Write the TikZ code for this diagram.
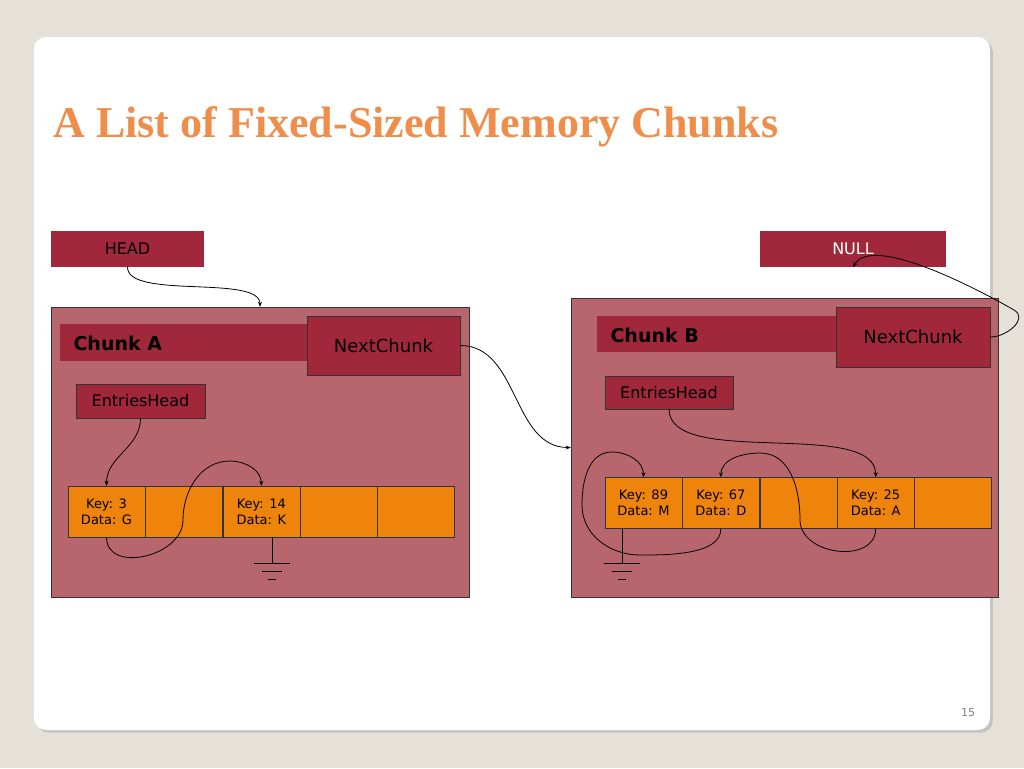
\documentclass[tikz,border=0pt]{standalone}
\usepackage{fontspec}
\setmainfont{DejaVu Sans}
\newfontfamily\titlefont{Liberation Serif}
\usetikzlibrary{arrows.meta,positioning,shadows}
\definecolor{slidebg}{HTML}{E5E1D8}
\definecolor{ptrred}{HTML}{A0283A}
\definecolor{chunkfill}{HTML}{B8666E}
\definecolor{cellfill}{HTML}{EF840C}
\definecolor{titleorange}{HTML}{EE8E4A}
\tikzset{
  ptr/.style={draw=black!80, fill=ptrred, inner sep=0pt, font=\fontsize{16}{16}\selectfont},
  chunk/.style={draw=black!80, fill=chunkfill, inner sep=0pt},
  cell/.style={draw=black!80, fill=cellfill, minimum width=77pt, minimum height=51pt,
    inner sep=0pt, align=center, font=\fontsize{13}{16}\selectfont},
  link/.style={-{Stealth[length=5pt,width=4pt]}, thick, black},
}
\begin{document}
\begin{tikzpicture}[x=1pt,y=-1pt]
  \useasboundingbox (0,0) rectangle (1024,768);
  \fill[slidebg] (0,0) rectangle (1024,768);
  \fill[white, rounded corners=12pt, drop shadow={opacity=0.3}] (34,37) rectangle (990,730);

  % Title
  \node[anchor=west, text=titleorange, font=\titlefont\bfseries\fontsize{44}{44}\selectfont]
    (title) at (50,127) {A List of Fixed-Sized Memory Chunks};
  \node[text=black!50, font=\fontsize{11}{11}\selectfont] (page) at (968,713) {15};

  % Head and null pointers
  \node[ptr, draw=none, minimum width=153pt, minimum height=36pt, text=black] (head) at (127.5,249) {HEAD};
  \node[ptr, draw=none, minimum width=186pt, minimum height=36pt, text=white] (null) at (853,249) {NULL};

  % Chunk A
  % ---------------------
  \node[chunk, minimum width=418pt, minimum height=290pt] (chunkA) at (260,452) {};
  \fill[ptrred] (60,324) rectangle (310,361);
  \node[anchor=west, font=\bfseries\fontsize{19}{19}\selectfont] (labelA) at (70,343) {Chunk A};
  \node[ptr, minimum width=153pt, minimum height=59pt, font=\fontsize{18}{18}\selectfont] (nextA) at (383.5,345.5) {NextChunk};
  \node[ptr, minimum width=129pt, minimum height=34pt] (entA) at (140.5,401) {EntriesHead};
  \node[cell] (a1) at (106.5,511.5) {Key: 3\\Data: G};
  \node[cell, right=0pt of a1] (a2) {};
  \node[cell, right=0pt of a2] (a3) {Key: 14\\Data: K};
  \node[cell, right=0pt of a3] (a4) {};
  \node[cell, right=0pt of a4] (a5) {};
  \coordinate (gndA) at (272,563);
  \draw[thick] (a3.south -| gndA) -- (gndA);
  \draw[thick] (254,563) -- (290,563) (262,571) -- (282,571) (268,579) -- (276,579);

  % Chunk B
  % ---------------------
  \node[chunk, minimum width=427pt, minimum height=299pt] (chunkB) at (784.5,447.5) {};
  \fill[ptrred] (597,316) rectangle (840,352);
  \node[anchor=west, font=\bfseries\fontsize{19}{19}\selectfont] (labelB) at (607,335) {Chunk B};
  \node[ptr, minimum width=154pt, minimum height=60pt, font=\fontsize{18}{18}\selectfont] (nextB) at (913,337) {NextChunk};
  \node[ptr, minimum width=128pt, minimum height=33pt] (entB) at (669,392.5) {EntriesHead};
  \node[cell] (b1) at (643.5,503) {Key: 89\\Data: M};
  \node[cell, right=0pt of b1] (b2) {Key: 67\\Data: D};
  \node[cell, right=0pt of b2] (b3) {};
  \node[cell, right=0pt of b3] (b4) {Key: 25\\Data: A};
  \node[cell, right=0pt of b4] (b5) {};
  \coordinate (gndB) at (622,563);
  \draw[thick] (b1.south -| gndB) -- (gndB);
  \draw[thick] (604,563) -- (640,563) (612,571) -- (632,571) (618,579) -- (626,579);

  % Pointers
  % ---------------------
  \draw[link] (head.south) to[out=-90, in=90, looseness=0.6] (chunkA.north);
  \draw[link] (nextA.east) to[out=0, in=180, looseness=1] (chunkB.west);
  \draw[link] (nextB.east) to[out=0, in=-30, looseness=1.2] (1014,310) to[out=150, in=60, looseness=0.6] (null.south);
  \draw[link] (entA.south) to[out=-90, in=90] (a1.north);
  \draw[link] (a1.south) to[out=-90, in=-90, looseness=1.2] (183,520) to[out=90, in=180] (230,461) to[out=0, in=90] (a3.north);
  \draw[link] (entB.south) to[out=-90, in=90, looseness=0.7] (b4.north);
  \draw[link] (b4.south) to[out=-90, in=-90, looseness=1.2] (800,520) to[out=90, in=0] (760,453) to[out=180, in=90] (b2.north);
  \draw[link] (b2.south) to[out=-90, in=0, looseness=0.8] (640,555) to[out=180, in=-90] (582,505) to[out=90, in=180] (612,452) to[out=0, in=90] (b1.north);
\end{tikzpicture}
\end{document}
